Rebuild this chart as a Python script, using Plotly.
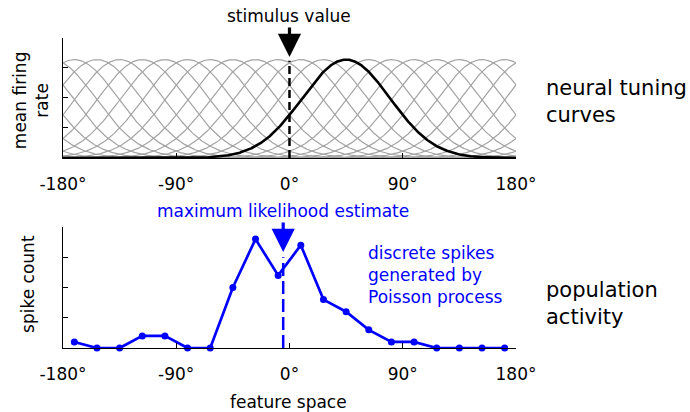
import numpy as np
import plotly.graph_objects as go

# Preferred feature values of the model neuron population (degrees)
preferred_deg = [-171, -153, -135, -117, -99, -81, -63, -45, -27, -9,
                 9, 27, 45, 63, 81, 99, 117, 135, 153, 171]
tuning_width_deg = 35.0      # Gaussian tuning width
peak_rate = 0.82             # peak of each tuning curve (axis runs 0..1)
highlight_deg = 45           # neuron whose tuning curve is drawn in black
stimulus_deg = 0
stimulus_line_top = 0.81

# Spike counts emitted by each neuron on one trial
spike_counts = [1, 0, 0, 2, 2, 0, 0, 10, 18, 12, 17, 8, 6, 3, 1, 1, 0, 0, 0, 0]
ml_estimate_deg = -5
ml_line_top = 15

tick_vals = [-180, -90, 0, 90, 180]
tick_text = ["-180°", "-90°", "0°", "90°", "180°"]

FONT = "DejaVu Sans"
BLUE = "#0000ff"
GRAY = "#a3a3a3"

theta = np.linspace(-180, 180, 1441)


def tuning(pref):
    d = (theta - pref + 180) % 360 - 180
    return peak_rate * np.exp(-d ** 2 / (2 * tuning_width_deg ** 2))


fig = go.Figure()

# Population of tuning curves
for p in preferred_deg:
    fig.add_trace(go.Scatter(x=theta, y=tuning(p), mode="lines",
                             line=dict(color=GRAY, width=1.2),
                             xaxis="x", yaxis="y", hoverinfo="skip"))
fig.add_trace(go.Scatter(x=theta, y=tuning(highlight_deg), mode="lines",
                         line=dict(color="black", width=2.6),
                         xaxis="x", yaxis="y"))
fig.add_trace(go.Scatter(x=[stimulus_deg, stimulus_deg], y=[0, stimulus_line_top],
                         mode="lines", line=dict(color="black", width=2.5, dash="8px,4px"),
                         xaxis="x", yaxis="y"))

# Population response
fig.add_trace(go.Scatter(x=preferred_deg, y=spike_counts, mode="lines+markers",
                         line=dict(color=BLUE, width=2.7),
                         marker=dict(color=BLUE, size=7),
                         cliponaxis=False, xaxis="x2", yaxis="y2"))
fig.add_trace(go.Scatter(x=[ml_estimate_deg, ml_estimate_deg], y=[0, ml_line_top],
                         mode="lines", line=dict(color=BLUE, width=2.5, dash="13px,5px"),
                         xaxis="x2", yaxis="y2"))

x_common = dict(range=[-180, 180], showline=True, linecolor="black", linewidth=1.2,
                ticks="inside", ticklen=5, tickwidth=1, tickcolor="black",
                tickvals=tick_vals, ticktext=tick_text,
                tickfont=dict(family=FONT, size=17, color="black"),
                ticklabelstandoff=10, automargin=False,
                showgrid=False, zeroline=False, domain=[0.0913, 0.7478])
y_common = dict(showline=True, linecolor="black", linewidth=1.2,
                ticks="inside", ticklen=5, tickwidth=1, tickcolor="black",
                showticklabels=False, showgrid=False, zeroline=False,
                automargin=False)

fig.update_layout(
    template="none",
    width=690, height=412,
    margin=dict(l=0, r=0, t=0, b=0, autoexpand=False),
    paper_bgcolor="white", plot_bgcolor="white",
    showlegend=False,
    font=dict(family=FONT, size=17, color="black"),
    xaxis=dict(**x_common, anchor="y"),
    yaxis=dict(**y_common, range=[0, 1], tickvals=[0, 0.25, 0.5, 0.75, 1],
               domain=[0.6165, 0.9078], anchor="x"),
    xaxis2=dict(**x_common, anchor="y2"),
    yaxis2=dict(**y_common, range=[0, 20], tickvals=[0, 5, 10, 15, 20],
                domain=[0.1553, 0.4490], anchor="x2"),
)

annotations = [
    dict(x=stimulus_deg, y=0.8617, xref="x", yref="paper", text="stimulus value",
         showarrow=True, ax=0, ay=-41, arrowhead=2, arrowsize=1.45, arrowwidth=3.2,
         arrowcolor="black", font=dict(size=17, color="black")),
    dict(x=ml_estimate_deg, y=0.3883, xref="x2", yref="paper",
         text="maximum likelihood estimate",
         showarrow=True, ax=0, ay=-41, arrowhead=2, arrowsize=1.45, arrowwidth=3.2,
         arrowcolor=BLUE, font=dict(size=17, color=BLUE)),
    dict(x=0.7884, y=0.7536, xref="paper", yref="paper", text="neural tuning<br>curves",
         showarrow=False, xanchor="left", yanchor="middle", align="left",
         font=dict(size=21, color="black")),
    dict(x=0.7884, y=0.2633, xref="paper", yref="paper", text="population<br>activity",
         showarrow=False, xanchor="left", yanchor="middle", align="left",
         font=dict(size=21, color="black")),
    dict(x=0.5304, y=0.3325, xref="paper", yref="paper",
         text="discrete spikes<br>generated by<br>Poisson process",
         showarrow=False, xanchor="left", yanchor="middle", align="left",
         font=dict(size=17, color=BLUE)),
    dict(x=0.4188, y=0.025, xref="paper", yref="paper", text="feature space",
         showarrow=False, xanchor="center", yanchor="middle",
         font=dict(size=17, color="black")),
    dict(x=0.045, y=0.757, xref="paper", yref="paper", text="mean firing<br>rate",
         showarrow=False, textangle=-90, xanchor="center", yanchor="middle",
         font=dict(size=17, color="black")),
    dict(x=0.0406, y=0.311, xref="paper", yref="paper", text="spike count",
         showarrow=False, textangle=-90, xanchor="center", yanchor="middle",
         font=dict(size=17, color="black")),
]
fig.update_layout(annotations=annotations)

fig.write_html("out.html")
